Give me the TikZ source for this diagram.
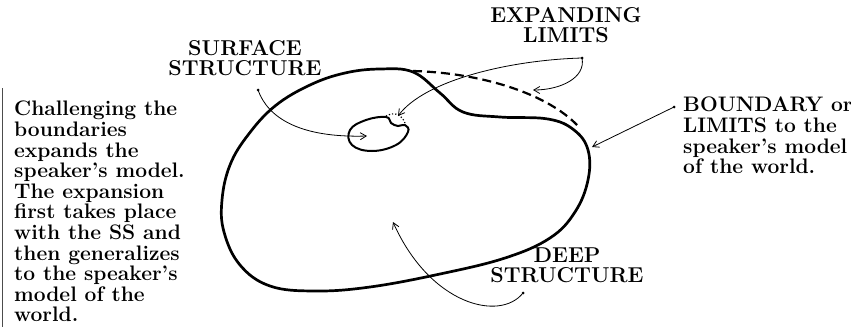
\documentclass[tikz,border=0pt]{standalone}
\usepackage{tikz}
\usetikzlibrary{arrows.meta,positioning}

\begin{document}
\begin{tikzpicture}[
    x=1pt, y=-1pt,
    outline/.style={line width=2.7pt, line join=round},
    limit/.style={line width=2.2pt, dash pattern=on 9pt off 5pt},
    pointer/.style={-{Straight Barb[length=6pt,width=7pt]}, line width=0.8pt},
    dot/.style={circle, fill, inner sep=0pt, minimum size=3pt},
    caps/.style={font=\fontsize{21.5}{20.5}\selectfont\bfseries, align=center, inner sep=0pt},
    note/.style={font=\fontsize{21}{20.6}\selectfont\bfseries, align=left, inner sep=0pt}
]
\useasboundingbox (0,0) rectangle (851,327);

% page edge
\draw[line width=1pt, black!70] (2,88) -- (2,327);

% model of the world
\draw[outline] plot[smooth cycle, tension=0.65] coordinates {
    (380,69) (413,72) (440,93) (463,112) (500,117) (548,119) (574,130)
    (588,150) (588,180) (575,212) (550,238) (505,258) (440,274) (370,287)
    (315,291) (270,286) (240,265) (224,232) (222,200) (230,165) (248,135)
    (275,106) (310,85) (345,73)};
\draw[limit] (413,71) .. controls (485,73) and (548,95) .. (577,125);

% surface structure
\draw[line width=2pt] plot[smooth cycle, tension=0.7] coordinates {
    (386,117) (366,120) (350,130) (352,145) (372,151) (396,145)
    (408,132) (405,125) (398,126) (391,123)};
\draw[line width=1.2pt, dotted] (386,116) .. controls (392,112) and (401,113) .. (405,123);

% labels
\node[caps] (expand) at (566,25) {EXPANDING\\LIMITS};
\node[caps] (surface) at (245,58) {SURFACE\\STRUCTURE};
\node[caps] (deep) at (567,265) {DEEP\\STRUCTURE};
\node[note, anchor=north west] (bound) at (683,97)
  {BOUNDARY or\\LIMITS to the\\speaker's model\\of the world.};
\node[note, anchor=north west] (challenge) at (14,101)
  {Challenging the\\boundaries\\expands the\\speaker's model.\\The expansion\\
   first takes place\\with the SS and\\then generalizes\\to the speaker's\\
   model of the\\world.};

% pointers
\node[dot] (sdot) at (258,90) {};
\node[dot] (edot) at (582,58) {};
\node[dot] (bdot) at (674,107) {};
\node[dot] (ddot) at (523,293) {};
\coordinate (sin) at (367,136);
\coordinate (dent) at (398,116);
\coordinate (dash) at (533,90);
\coordinate (edge) at (592,147);
\coordinate (deepin) at (393,222);

\draw[pointer] (sdot.center) .. controls (268,118) and (300,138) .. (sin);
\draw[pointer] (edot.center) .. controls (510,60) and (425,80) .. (dent);
\draw[pointer] (edot.center) .. controls (586,78) and (560,90) .. (dash);
\draw[pointer] (bdot.center) -- (edge);
\draw[pointer] (ddot.center) .. controls (500,322) and (430,305) .. (deepin);
\end{tikzpicture}
\end{document}
